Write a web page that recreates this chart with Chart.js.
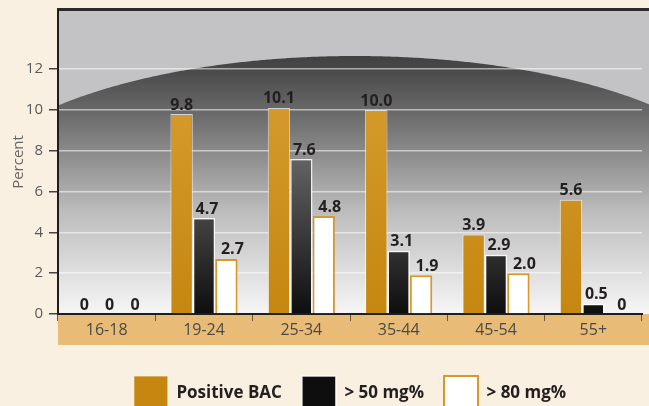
<!DOCTYPE html>
<html>
<head>
<meta charset="utf-8">
<script src="https://cdn.jsdelivr.net/npm/chart.js@4/dist/chart.umd.min.js"></script>
<style>
html, body { margin: 0; padding: 0; background: #faf0e1; overflow: hidden; }
#wrap { width: 649px; height: 406px; overflow: hidden; }
#bac { margin-top: -5px; display: block; }
</style>
</head>
<body>
<div id="wrap"><canvas id="bac" width="649" height="430"></canvas></div>
<script>
// age groups and the three BAC series (percent of drivers)
var ageGroups = ['16-18', '19-24', '25-34', '35-44', '45-54', '55+'];
var positiveBac = [0, 9.8, 10.1, 10.0, 3.9, 5.6];
var over50 = [0, 4.7, 7.6, 3.1, 2.9, 0.5];
var over80 = [0, 2.7, 4.8, 1.9, 2.0, 0];
var yTicks = [0, 2, 4, 6, 8, 10, 12];

var FONT = '"Open Sans", "DejaVu Sans", sans-serif';

// grey backdrop with the dark dome, tan band under the x axis
var backdrop = {
    id: 'backdrop',
    beforeDraw(chart) {
        var ctx = chart.ctx, a = chart.chartArea, w = chart.width;
        ctx.save();
        ctx.fillStyle = '#e8bb76';
        ctx.fillRect(a.left, a.bottom, w - a.left, 31);
        ctx.fillStyle = '#c3c3c5';
        ctx.fillRect(a.left, a.top, w - a.left, a.bottom - a.top);

        var cx = (a.left + a.right) / 2 + 5;
        var domeTop = a.top + 46;
        ctx.beginPath();
        ctx.moveTo(a.left, a.bottom);
        for (var x = a.left; x <= w + 2; x += 2) {
            var dx = (x - cx) / 400;
            var y = domeTop + 150 * (1 - Math.sqrt(Math.max(0, 1 - dx * dx)));
            ctx.lineTo(x, y);
        }
        ctx.lineTo(w + 2, a.bottom);
        ctx.closePath();
        var g = ctx.createLinearGradient(0, domeTop, 0, a.bottom);
        g.addColorStop(0, '#404040');
        g.addColorStop(0.25, '#707070');
        g.addColorStop(0.6, '#bcbcbc');
        g.addColorStop(1, '#f6f6f6');
        ctx.fillStyle = g;
        ctx.fill();

        ctx.fillStyle = '#2b2b2b';
        ctx.fillRect(a.left - 1, a.top - 2, w, 3);
        ctx.restore();
    }
};

// numbers above each bar
var valueTags = {
    id: 'valueTags',
    afterDatasetsDraw(chart) {
        var ctx = chart.ctx;
        ctx.save();
        ctx.font = 'bold 16px ' + FONT;
        ctx.fillStyle = '#231f20';
        ctx.textAlign = 'center';
        chart.data.datasets.forEach(function(ds, i) {
            chart.getDatasetMeta(i).data.forEach(function(bar, j) {
                var v = ds.data[j];
                ctx.fillText(v === 0 ? '0' : v.toFixed(1), bar.x + i * 3, bar.y - 9);
            });
        });
        ctx.restore();
    }
};

function orangeFill(c) {
    var a = c.chart.chartArea;
    if (!a) return '#c98b14';
    var g = c.chart.ctx.createLinearGradient(0, a.top, 0, a.bottom);
    g.addColorStop(0, '#dba238');
    g.addColorStop(1, '#c68710');
    return g;
}

function blackFill(c) {
    var a = c.chart.chartArea;
    if (!a) return '#222';
    var g = c.chart.ctx.createLinearGradient(0, a.top, 0, a.bottom);
    g.addColorStop(0, '#c8c8c8');
    g.addColorStop(0.45, '#6a6a6a');
    g.addColorStop(1, '#0e0e0e');
    return g;
}

var chart = new Chart(document.getElementById('bac'), {
    type: 'bar',
    data: {
        labels: ageGroups,
        datasets: [
            { label: 'Positive BAC', data: positiveBac, backgroundColor: orangeFill, borderColor: 'rgba(255,255,255,0.7)', borderWidth: 1 },
            { label: '> 50 mg%', data: over50, backgroundColor: blackFill, borderColor: 'rgba(255,255,255,0.85)', borderWidth: 1.5 },
            { label: '> 80 mg%', data: over80, backgroundColor: '#ffffff', borderColor: '#d9992a', borderWidth: 2 }
        ]
    },
    options: {
        responsive: false,
        animation: false,
        categoryPercentage: 0.69,
        barPercentage: 1,
        layout: { padding: { top: 5, right: 7, left: 0, bottom: 5 } },
        plugins: {
            tooltip: { enabled: false },
            legend: {
                position: 'bottom',
                fullSize: false,
                labels: {
                    boxWidth: 34,
                    boxHeight: 34,
                    padding: 20,
                    color: '#231f20',
                    font: { family: FONT, size: 17, weight: 'bold' }
                }
            }
        },
        scales: {
            x: {
                afterFit: function(s) { s.height = 42; },
                grid: { drawOnChartArea: false, tickLength: 7, tickColor: '#6b5a40' },
                border: { color: '#1e1e1e', width: 2 },
                ticks: { padding: 0, color: '#4a4a4a', font: { family: FONT, size: 16 } }
            },
            y: {
                min: 0,
                max: 14.9,
                afterFit: function(s) { s.width = 58; },
                afterBuildTicks: function(s) { s.ticks = yTicks.map(function(v) { return { value: v }; }); },
                grid: { color: 'rgba(255,255,255,0.55)', lineWidth: 1.5, tickLength: 9, tickColor: '#444' },
                border: { color: '#1e1e1e', width: 2 },
                title: { display: true, text: 'Percent', color: '#666', padding: { top: 10, bottom: 0 }, font: { family: FONT, size: 15 } },
                ticks: { padding: 6, color: '#5a5a5a', font: { family: FONT, size: 15 } }
            }
        }
    },
    plugins: [backdrop, valueTags]
});
</script>
</body>
</html>
